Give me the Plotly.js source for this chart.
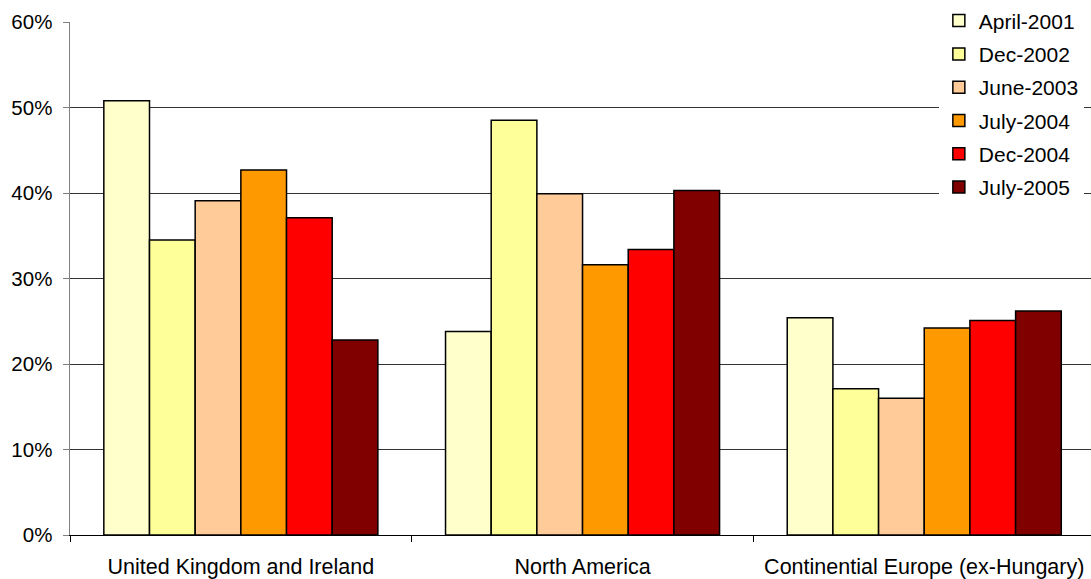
<!DOCTYPE html>
<html>
<head>
<meta charset="utf-8">
<script src="https://cdn.plot.ly/plotly-3.0.1.min.js"></script>
<style>html,body{margin:0;padding:0;background:#fff;overflow:hidden;}</style>
</head>
<body>
<div id="chart" style="width:1091px;height:579px;"></div>
<script>
const categories = ["United Kingdom and Ireland", "North America", "Continential Europe (ex-Hungary)"];
const seriesNames = ["April-2001", "Dec-2002", "June-2003", "July-2004", "Dec-2004", "July-2005"];
const april2001 = [0.508, 0.238, 0.254];
const dec2002   = [0.345, 0.485, 0.171];
const june2003  = [0.391, 0.399, 0.160];
const july2004  = [0.427, 0.316, 0.242];
const dec2004   = [0.371, 0.334, 0.251];
const july2005  = [0.228, 0.403, 0.262];
const seriesValues = [april2001, dec2002, june2003, july2004, dec2004, july2005];
const colors = ["#FFFFCC", "#FFFF99", "#FFCC99", "#FF9900", "#FF0000", "#800000"];
const yTicks = [0, 0.1, 0.2, 0.3, 0.4, 0.5, 0.6];
const yTickLabels = ["0%", "10%", "20%", "30%", "40%", "50%", "60%"];

const traces = seriesNames.map((name, i) => ({
  type: "bar",
  name: name,
  legendgroup: name,
  x: categories,
  y: seriesValues[i],
  marker: { color: colors[i], line: { color: "#000000", width: 1.5 } },
  hoverinfo: "name+y"
}));

const layout = {
  width: 1091,
  height: 579,
  margin: { l: 70, r: 0, t: 22, b: 44, pad: 0 },
  paper_bgcolor: "#ffffff",
  plot_bgcolor: "#ffffff",
  font: { family: "Liberation Sans, Arial, sans-serif", size: 20, color: "#000000" },
  barmode: "group",
  bargap: 0.198,
  bargroupgap: 0,
  showlegend: true,
  legend: {
    x: 0.993, y: 1.042, xanchor: "right", yanchor: "top",
    bgcolor: "#ffffff", borderwidth: 0,
    font: { size: 21 },
    traceorder: "grouped",
    tracegroupgap: 3
  },
  xaxis: {
    type: "category",
    range: [-0.5, 2.488],
    showgrid: false,
    showline: true,
    linecolor: "#000000",
    linewidth: 1,
    ticks: "outside",
    tickson: "boundaries",
    ticklen: 6,
    tickcolor: "#000000",
    tickfont: { size: 21.5 },
    ticklabelstandoff: 12,
    fixedrange: true
  },
  yaxis: {
    range: [0, 0.6],
    tickvals: yTicks,
    ticktext: yTickLabels,
    tickfont: { size: 20.5 },
    showgrid: true,
    gridcolor: "#333333",
    gridwidth: 1,
    zeroline: false,
    showline: true,
    linecolor: "#808080",
    linewidth: 1.5,
    ticks: "outside",
    ticklen: 6,
    tickcolor: "#808080",
    ticklabelstandoff: 6,
    fixedrange: true
  }
};

Plotly.newPlot("chart", traces, layout, { displayModeBar: false, staticPlot: true });
</script>
</body>
</html>
